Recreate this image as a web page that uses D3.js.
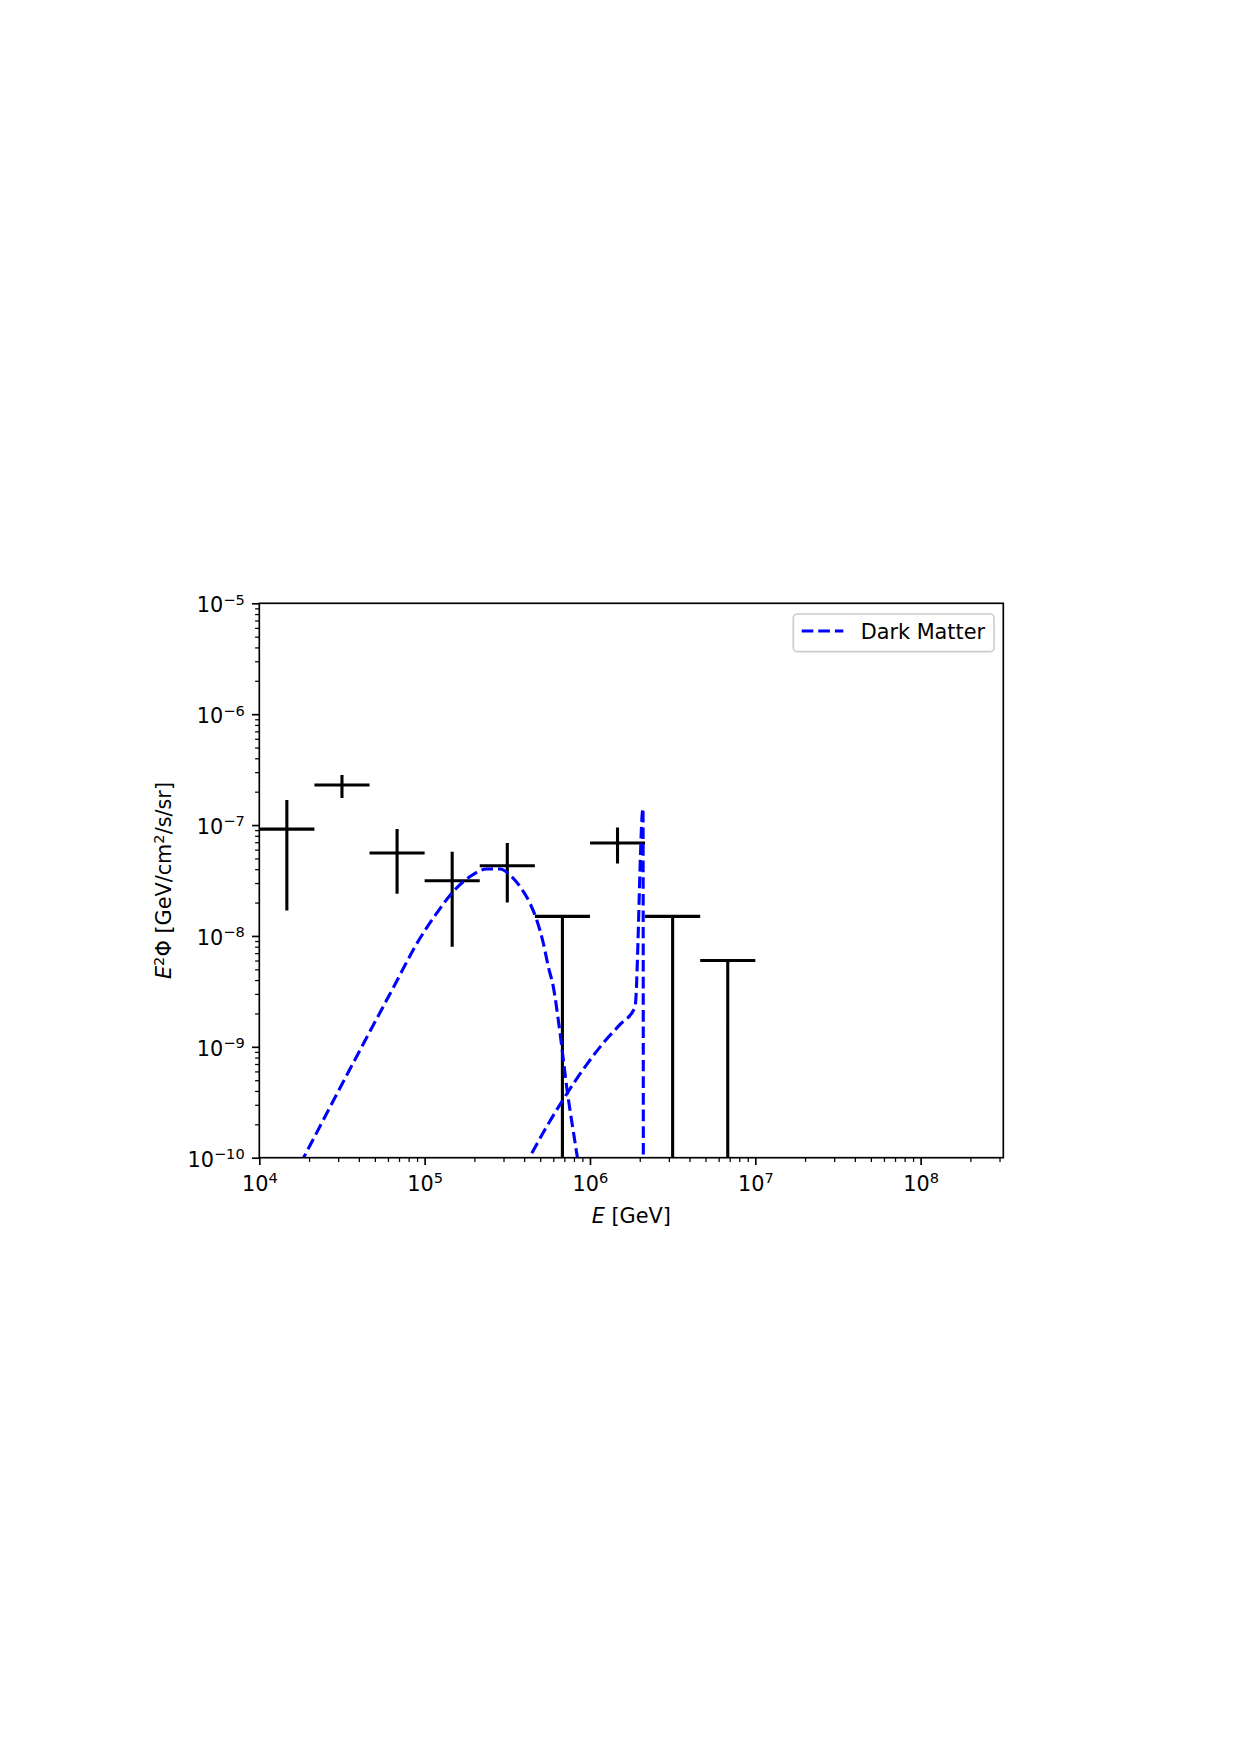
<!DOCTYPE html>
<html>
<head>
<meta charset="utf-8">
<script src="https://cdn.jsdelivr.net/npm/d3@7"></script>
<style>
body { margin: 0; background: #fff; }
text { font-family: "DejaVu Sans", sans-serif; }
</style>
</head>
<body>
<div id="chart"></div>
<script>
// measured spectrum, three bins per decade (GeV)
var binLow = [1.0e4, 2.154e4, 4.642e4, 1.0e5, 2.154e5, 4.642e5, 1.0e6, 2.154e6, 4.642e6]
var binHigh = [2.154e4, 4.642e4, 1.0e5, 2.154e5, 4.642e5, 1.0e6, 2.154e6, 4.642e6, 1.0e7]
var flux = [9.2e-8, 2.3e-7, 5.6e-8, 3.15e-8, 4.3e-8, 1.5e-8, 6.9e-8, 1.5e-8, 6.0e-9]
// null = upper limit (bar runs down to the bottom)
var fluxLow = [1.7e-8, 1.75e-7, 2.4e-8, 8.0e-9, 2.0e-8, null, 4.5e-8, null, null]
var fluxHigh = [1.68e-7, 2.83e-7, 9.2e-8, 5.75e-8, 6.9e-8, null, 9.5e-8, null, null]

// dark matter model, continuum bump
var dmE1 = [1.585e4, 1.845e4, 2.818e4, 4.064e4, 6.166e4, 9.376e4, 1.183e5, 1.489e5, 1.879e5, 2.371e5, 2.858e5, 3.281e5, 3.776e5, 4.335e5, 4.764e5, 5.224e5, 5.598e5, 5.998e5, 6.592e5, 7.228e5, 8.375e5, 9.12e5]
var dmF1 = [6.5e-11, 9.9e-11, 3.31e-10, 9.33e-10, 2.99e-9, 9.53e-9, 1.603e-8, 2.512e-8, 3.428e-8, 4.018e-8, 4.018e-8, 3.548e-8, 2.786e-8, 1.972e-8, 1.393e-8, 8.59e-9, 5.28e-9, 3.49e-9, 1.327e-9, 4.375e-10, 1.023e-10, 4.4e-11]
// dark matter model, second channel with line
var dmE2 = [3.981e5, 4.335e5, 5.47e5, 6.887e5, 9.55e5, 1.262e6, 1.517e6, 1.871e6, 2.094e6, 2.104e6]
var dmF2 = [8.1e-11, 1.023e-10, 1.905e-10, 3.35e-10, 6.92e-10, 1.175e-9, 1.585e-9, 2.265e-9, 1.42e-7, 1.0e-11]

var xMajor = [1e4, 1e5, 1e6, 1e7, 1e8]
var yMajor = [1e-10, 1e-9, 1e-8, 1e-7, 1e-6, 1e-5]

const width = 1240, height = 1755
const plot = {left: 259.3, right: 1003.3, top: 603.3, bottom: 1157.7}
const fs = 20.8, sup = 14.6

var svg = d3.select("#chart").append("svg").attr("width", width).attr("height", height)
svg.append("rect").attr("width", width).attr("height", height).attr("fill", "#fff")

var x = d3.scaleLog().domain([1e4, 3.162e8]).range([plot.left, plot.right])
var y = d3.scaleLog().domain([1e-10, 1e-5]).range([plot.bottom, plot.top])

svg.append("clipPath").attr("id", "clip").append("rect")
    .attr("x", plot.left).attr("y", plot.top)
    .attr("width", plot.right - plot.left).attr("height", plot.bottom - plot.top)

// minor ticks
var xMinor = [], yMinor = []
for (var n = 4; n <= 8; n++) for (var k = 2; k <= 9; k++) if (k * Math.pow(10, n) <= x.domain()[1]) xMinor.push(k * Math.pow(10, n))
for (var n = -10; n < -5; n++) for (var k = 2; k <= 9; k++) yMinor.push(k * Math.pow(10, n))

function sciLabel(sel, exp) {
    sel.text(null)
    sel.append("tspan").text("10")
    sel.append("tspan").attr("dy", -7.5).attr("font-size", sup).text(exp < 0 ? "\u2212" + (-exp) : exp)
}

svg.append("g").attr("transform", "translate(0," + plot.bottom + ")")
    .call(d3.axisBottom(x).tickValues(xMinor).tickSize(4.2).tickSizeOuter(0).tickFormat(""))
    .call(g => g.select(".domain").remove())
    .call(g => g.selectAll(".tick line").attr("stroke", "#000").attr("stroke-width", 1.25))

svg.append("g").attr("transform", "translate(" + plot.left + ",0)")
    .call(d3.axisLeft(y).tickValues(yMinor).tickSize(4.2).tickSizeOuter(0).tickFormat(""))
    .call(g => g.select(".domain").remove())
    .call(g => g.selectAll(".tick line").attr("stroke", "#000").attr("stroke-width", 1.25))

svg.append("g").attr("transform", "translate(0," + plot.bottom + ")")
    .call(d3.axisBottom(x).tickValues(xMajor).tickSize(7.3).tickSizeOuter(0).tickFormat(""))
    .call(g => g.select(".domain").remove())
    .call(g => g.selectAll(".tick line").attr("stroke", "#000").attr("stroke-width", 1.67))
    .call(g => g.selectAll(".tick text").attr("y", 33.3).attr("dy", null).attr("fill", "#000")
        .attr("font-size", fs).attr("font-family", "DejaVu Sans")
        .each(function (d) { sciLabel(d3.select(this), Math.round(Math.log10(d))) }))

svg.append("g").attr("transform", "translate(" + plot.left + ",0)")
    .call(d3.axisLeft(y).tickValues(yMajor).tickSize(7.3).tickSizeOuter(0).tickFormat(""))
    .call(g => g.select(".domain").remove())
    .call(g => g.selectAll(".tick line").attr("stroke", "#000").attr("stroke-width", 1.67))
    .call(g => g.selectAll(".tick text").attr("x", -14.6).attr("y", 8.4).attr("dy", null).attr("fill", "#000")
        .attr("font-size", fs).attr("font-family", "DejaVu Sans")
        .each(function (d) { sciLabel(d3.select(this), Math.round(Math.log10(d))) }))

// error bars
var data = binLow.map((lo, i) => ({lo: lo, hi: binHigh[i], c: Math.sqrt(lo * binHigh[i]), f: flux[i], fl: fluxLow[i], fh: fluxHigh[i]}))
var bars = svg.append("g").attr("clip-path", "url(#clip)").attr("stroke", "#000").attr("stroke-width", 3.1)
bars.selectAll("line.h").data(data).enter().append("line").attr("class", "h")
    .attr("x1", d => x(d.lo)).attr("x2", d => x(d.hi)).attr("y1", d => y(d.f)).attr("y2", d => y(d.f))
bars.selectAll("line.v").data(data).enter().append("line").attr("class", "v")
    .attr("x1", d => x(d.c)).attr("x2", d => x(d.c))
    .attr("y1", d => d.fh == null ? y(d.f) : y(d.fh))
    .attr("y2", d => d.fl == null ? plot.bottom + 2 : y(d.fl))

// dark matter curves
var line = d3.line().x(d => x(d[0])).y(d => y(d[1])).curve(d3.curveMonotoneX)
var dm = svg.append("g").attr("clip-path", "url(#clip)").attr("fill", "none").attr("stroke", "#0000ff")
    .attr("stroke-width", 3.1).attr("stroke-dasharray", "11.6,5")
dm.append("path").attr("d", line(dmE1.map((e, i) => [e, dmF1[i]])))
dm.append("path").attr("d", line(dmE2.map((e, i) => [e, dmF2[i]])))

// frame
svg.append("rect").attr("x", plot.left).attr("y", plot.top)
    .attr("width", plot.right - plot.left).attr("height", plot.bottom - plot.top)
    .attr("fill", "none").attr("stroke", "#000").attr("stroke-width", 1.67)

// axis labels
var xl = svg.append("text").attr("x", (plot.left + plot.right) / 2).attr("y", 1223.3)
    .attr("text-anchor", "middle").attr("font-size", fs)
xl.append("tspan").attr("font-style", "italic").text("E")
xl.append("tspan").text(" [GeV]")

var yl = svg.append("text").attr("transform", "translate(171," + (plot.top + plot.bottom) / 2 + ") rotate(-90)")
    .attr("text-anchor", "middle").attr("font-size", fs)
yl.append("tspan").attr("font-style", "italic").text("E")
yl.append("tspan").attr("dy", -7.5).attr("font-size", sup).text("2")
yl.append("tspan").attr("dy", 7.5).text("\u03A6 [GeV/cm")
yl.append("tspan").attr("dy", -7.5).attr("font-size", sup).text("2")
yl.append("tspan").attr("dy", 7.5).text("/s/sr]")

// legend
var lg = svg.append("g")
lg.append("rect").attr("x", 793.3).attr("y", 614).attr("width", 200.7).attr("height", 37.7)
    .attr("rx", 4).attr("fill", "#fff").attr("fill-opacity", 0.8).attr("stroke", "#cccccc").attr("stroke-width", 1.67)
lg.append("line").attr("x1", 801.7).attr("x2", 843.3).attr("y1", 631).attr("y2", 631)
    .attr("stroke", "#0000ff").attr("stroke-width", 3.1).attr("stroke-dasharray", "11.6,5")
lg.append("text").attr("x", 860.7).attr("y", 639.3).attr("font-size", fs).text("Dark Matter")
</script>
</body>
</html>
